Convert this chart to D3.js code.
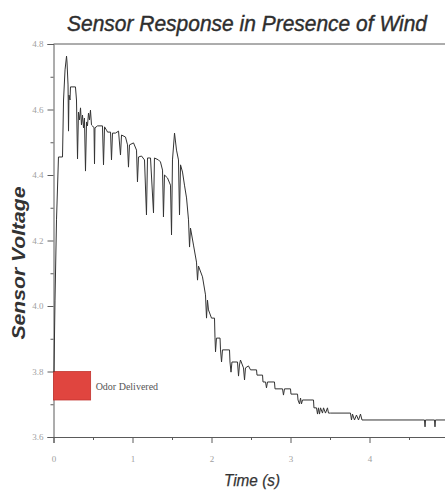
<!DOCTYPE html>
<html>
<head>
<meta charset="utf-8">
<script src="https://cdn.jsdelivr.net/npm/d3@7"></script>
<style>
  html, body { margin: 0; padding: 0; background: #fff; }
  svg { display: block; }
</style>
</head>
<body>
<div id="chart"></div>
<script>
// sensor trace
const timeS = [0.006, 0.019, 0.038, 0.063, 0.114, 0.127, 0.146, 0.165, 0.171, 0.184,
  0.190, 0.196, 0.209, 0.215, 0.278, 0.291, 0.304, 0.316, 0.329, 0.342,
  0.354, 0.367, 0.380, 0.392, 0.405, 0.418, 0.430, 0.443, 0.456, 0.468,
  0.481, 0.494, 0.513, 0.519, 0.525, 0.557, 0.620, 0.633, 0.646, 0.671,
  0.684, 0.722, 0.734, 0.747, 0.785, 0.823, 0.848, 0.861, 0.911, 0.937,
  0.949, 0.962, 1.013, 1.051, 1.063, 1.076, 1.114, 1.152, 1.177, 1.190,
  1.228, 1.266, 1.278, 1.329, 1.354, 1.380, 1.392, 1.405, 1.443, 1.481,
  1.494, 1.506, 1.532, 1.557, 1.582, 1.595, 1.608, 1.633, 1.658, 1.684,
  1.709, 1.722, 1.734, 1.772, 1.810, 1.823, 1.835, 1.886, 1.924, 1.937,
  1.949, 1.962, 2.000, 2.038, 2.044, 2.051, 2.063, 2.108, 2.114, 2.127,
  2.139, 2.228, 2.234, 2.247, 2.259, 2.329, 2.342, 2.354, 2.367, 2.405,
  2.418, 2.430, 2.468, 2.494, 2.570, 2.576, 2.646, 2.652, 2.684, 2.696,
  2.709, 2.797, 2.804, 2.899, 2.911, 2.924, 3.000, 3.006, 3.089, 3.095,
  3.114, 3.127, 3.139, 3.152, 3.291, 3.297, 3.329, 3.342, 3.354, 3.367,
  3.380, 3.405, 3.418, 3.443, 3.468, 3.481, 3.506, 3.759, 3.772, 3.785,
  3.810, 3.835, 3.861, 3.886, 3.905, 4.696, 4.703, 4.709, 4.823, 4.829,
  4.835, 4.962];

const voltage = [3.798, 4.018, 4.263, 4.455, 4.455, 4.629, 4.721, 4.763, 4.745, 4.675,
  4.534, 4.644, 4.629, 4.669, 4.669, 4.629, 4.449, 4.592, 4.568, 4.605,
  4.553, 4.583, 4.544, 4.574, 4.412, 4.562, 4.550, 4.589, 4.568, 4.598,
  4.553, 4.550, 4.544, 4.434, 4.544, 4.550, 4.550, 4.431, 4.547, 4.537,
  4.531, 4.531, 4.446, 4.528, 4.528, 4.534, 4.461, 4.522, 4.516, 4.492,
  4.424, 4.492, 4.498, 4.476, 4.379, 4.455, 4.458, 4.446, 4.278, 4.452,
  4.452, 4.284, 4.452, 4.446, 4.440, 4.415, 4.272, 4.400, 4.391, 4.369,
  4.217, 4.446, 4.528, 4.476, 4.446, 4.278, 4.431, 4.409, 4.369, 4.330,
  4.263, 4.180, 4.238, 4.186, 4.134, 4.079, 4.122, 4.089, 4.034, 3.963,
  4.018, 3.988, 3.963, 3.963, 3.905, 3.860, 3.902, 3.902, 3.866, 3.829,
  3.866, 3.866, 3.829, 3.798, 3.829, 3.829, 3.786, 3.820, 3.835, 3.811,
  3.774, 3.811, 3.817, 3.805, 3.805, 3.789, 3.789, 3.768, 3.768, 3.750,
  3.768, 3.768, 3.747, 3.747, 3.728, 3.747, 3.747, 3.731, 3.731, 3.713,
  3.701, 3.719, 3.701, 3.713, 3.713, 3.689, 3.689, 3.670, 3.689, 3.670,
  3.689, 3.673, 3.689, 3.673, 3.689, 3.673, 3.673, 3.673, 3.652, 3.670,
  3.652, 3.667, 3.652, 3.670, 3.652, 3.652, 3.631, 3.652, 3.652, 3.631,
  3.652, 3.652];

// odor delivery marker: time span and voltage span of the red box
const odorTime = [0, 0.47];
const odorVolt = [3.713, 3.8];
const odorLabel = "Odor Delivered";

const xTicks = [0, 1, 2, 3, 4];
const yTicks = [3.6, 3.8, 4.0, 4.2, 4.4, 4.6, 4.8];

const W = 445, H = 492;
const SERIF = '"Liberation Serif", "DejaVu Serif", serif';
const SANS = '"Liberation Sans", Arial, sans-serif';
const AXIS = "#5a5a5a";
const TICK_TEXT = "#a0a0a0";

const svg = d3.select("#chart").append("svg")
  .attr("width", W)
  .attr("height", H);

const x = d3.scaleLinear().domain([0, 5]).range([53.5, 448.5]);
const y = d3.scaleLinear().domain([3.6, 4.8]).range([437, 44]);

// top frame line
svg.append("line")
  .attr("x1", x(0)).attr("x2", W)
  .attr("y1", y(4.8)).attr("y2", y(4.8))
  .attr("stroke", AXIS).attr("stroke-width", 1);

// y axis, major + minor ticks
svg.append("g").attr("transform", `translate(${x(0)},0)`)
  .call(d3.axisLeft(y).tickValues(yTicks).tickSize(6).tickPadding(4)
    .tickFormat(d3.format(".1f")));
svg.append("g").attr("transform", `translate(${x(0)},0)`)
  .call(d3.axisLeft(y).tickValues(d3.range(3.7, 4.8, 0.2)).tickSize(3).tickFormat(""))
  .call(g => g.select(".domain").remove());

// x axis
svg.append("g").attr("transform", `translate(0,${y(3.6)})`)
  .call(d3.axisBottom(x).tickValues(xTicks).tickSize(6).tickPadding(13)
    .tickFormat(d3.format("d")));
svg.append("g").attr("transform", `translate(0,${y(3.6)})`)
  .call(d3.axisBottom(x).tickValues([0.5, 1.5, 2.5, 3.5, 4.5]).tickSize(3).tickFormat(""))
  .call(g => g.select(".domain").remove());

svg.selectAll("g").attr("font-family", SERIF);
svg.selectAll(".domain").attr("stroke", AXIS);
svg.selectAll(".tick line").attr("stroke", AXIS);
svg.selectAll(".tick text")
  .attr("fill", TICK_TEXT)
  .style("font-family", SERIF)
  .style("font-size", "9px");

// odor delivered box
svg.append("rect")
  .attr("x", x(odorTime[0]))
  .attr("y", y(odorVolt[1]))
  .attr("width", x(odorTime[1]) - x(odorTime[0]))
  .attr("height", y(odorVolt[0]) - y(odorVolt[1]))
  .attr("fill", "#e0453f")
  .attr("stroke", "#c2352f")
  .attr("stroke-width", 0.8);

svg.append("text")
  .attr("x", x(odorTime[1]) + 5)
  .attr("y", (y(odorVolt[0]) + y(odorVolt[1])) / 2 + 4)
  .attr("fill", "#555")
  .style("font-family", SERIF)
  .style("font-size", "10px")
  .text(odorLabel);

// sensor trace
const pts = timeS.map((t, i) => [t, voltage[i]]);
const line = d3.line().x(d => x(d[0])).y(d => y(d[1]));

svg.append("path")
  .datum(pts)
  .attr("d", line)
  .attr("fill", "none")
  .attr("stroke", "#333")
  .attr("stroke-width", 1)
  .attr("stroke-linejoin", "round");

// titles
svg.append("text")
  .attr("x", 247).attr("y", 31)
  .attr("text-anchor", "middle")
  .attr("textLength", 360)
  .attr("lengthAdjust", "spacingAndGlyphs")
  .attr("fill", "#2e2e2e")
  .attr("stroke", "#2e2e2e").attr("stroke-width", 0.4)
  .style("font-family", SANS)
  .style("font-style", "italic")
  .style("font-size", "22px")
  .text("Sensor Response in Presence of Wind");

svg.append("text")
  .attr("transform", "translate(25,263) rotate(-90)")
  .attr("text-anchor", "middle")
  .attr("textLength", 153)
  .attr("lengthAdjust", "spacingAndGlyphs")
  .attr("fill", "#333")
  .style("font-family", SANS)
  .style("font-style", "italic")
  .style("font-weight", "bold")
  .style("font-size", "18px")
  .text("Sensor Voltage");

svg.append("text")
  .attr("x", 252).attr("y", 486)
  .attr("text-anchor", "middle")
  .attr("textLength", 56)
  .attr("lengthAdjust", "spacingAndGlyphs")
  .attr("fill", "#333")
  .attr("stroke", "#333").attr("stroke-width", 0.25)
  .style("font-family", SANS)
  .style("font-style", "italic")
  .style("font-size", "17px")
  .text("Time (s)");
</script>
</body>
</html>
